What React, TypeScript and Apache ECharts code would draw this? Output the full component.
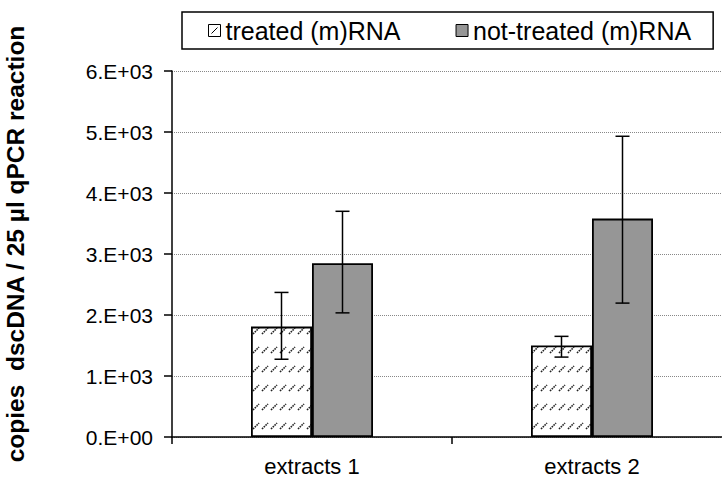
import React, { useEffect, useRef } from "react";
import * as echarts from "echarts";

const categories = ["extracts 1", "extracts 2"];
const seriesNames = ["treated (m)RNA", "not-treated (m)RNA"];
const treatedValues = [1810, 1500];
const treatedLow = [1275, 1310];
const treatedHigh = [2370, 1650];
const notTreatedValues = [2850, 3580];
const notTreatedLow = [2035, 2195];
const notTreatedHigh = [3700, 4930];
const yTickLabels = ["0.E+00", "1.E+03", "2.E+03", "3.E+03", "4.E+03", "5.E+03", "6.E+03"];
const yAxisTitle = "copies  dscDNA / 25 µl qPCR reaction";

const FONT = '"Liberation Sans", Arial, sans-serif';
const BAR_W = 61;

function makeHatch(): any {
  const c = document.createElement("canvas");
  c.width = 9;
  c.height = 19;
  const ctx = c.getContext("2d")!;
  ctx.fillStyle = "#ffffff";
  ctx.fillRect(0, 0, 9, 19);
  ctx.strokeStyle = "#222222";
  ctx.lineWidth = 1.6;
  ctx.setLineDash([1.6, 0.9]);
  ctx.beginPath();
  ctx.moveTo(1, 11);
  ctx.lineTo(7, 5);
  ctx.stroke();
  return { image: c.toDataURL(), repeat: "repeat", imageWidth: 9, imageHeight: 19 };
}

export default function App() {
  const ref = useRef<HTMLDivElement>(null);
  useEffect(() => {
    document.body.style.margin = "0";
    const chart = echarts.init(ref.current!, null, { renderer: "svg" });
    const hatch = makeHatch();
    const errData: any[] = [];
    categories.forEach((_, i) => {
      errData.push([i, treatedLow[i], treatedHigh[i], 0]);
      errData.push([i, notTreatedLow[i], notTreatedHigh[i], 1]);
    });
    chart.setOption({
      animation: false,
      grid: { left: 172, top: 71, width: 560, bottom: 48, outerBoundsMode: "none", containLabel: false },
      legend: {
        left: 182,
        top: 12,
        padding: [6, 22, 6, 26],
        itemGap: 55,
        itemWidth: 12,
        itemHeight: 12,
        borderColor: "#000",
        borderWidth: 1.5,
        backgroundColor: "#fff",
        textStyle: { fontFamily: FONT, fontSize: 25, color: "#000" },
        data: [
          {
            name: seriesNames[0],
            icon: "path://M0,0L12,0L12,12L0,12Z M3,9L9,3",
            itemStyle: { color: "#fff", borderColor: "#000", borderWidth: 1 },
          },
          {
            name: seriesNames[1],
            icon: "rect",
            itemStyle: { color: "#969696", borderColor: "#000", borderWidth: 1 },
          },
        ],
      },
      xAxis: {
        type: "category",
        data: categories,
        axisLine: { lineStyle: { color: "#000", width: 1.5 } },
        axisTick: { show: true, length: 7, lineStyle: { color: "#000", width: 1.5 } },
        axisLabel: { color: "#000", fontFamily: FONT, fontSize: 22, margin: 18 },
      },
      yAxis: {
        type: "value",
        min: 0,
        max: 6000,
        interval: 1000,
        axisLine: { show: true, lineStyle: { color: "#000", width: 1.5 } },
        axisTick: { show: true, length: 8, lineStyle: { color: "#000", width: 1.5 } },
        axisLabel: {
          color: "#000",
          fontFamily: FONT,
          fontSize: 21,
          margin: 19,
          formatter: (v: number) => yTickLabels[Math.round(v / 1000)],
        },
        splitLine: { show: true, lineStyle: { color: "#888", width: 1, type: [1, 1] } },
      },
      graphic: [
        {
          type: "text",
          x: 15,
          y: 244,
          rotation: Math.PI / 2,
          style: {
            text: yAxisTitle,
            font: `bold 24.5px ${FONT}`,
            fill: "#000",
            align: "center",
            verticalAlign: "middle",
            textAlign: "center",
            textVerticalAlign: "middle",
          },
        },
      ],
      series: [
        {
          name: seriesNames[0],
          type: "bar",
          data: treatedValues,
          barWidth: BAR_W,
          barGap: "0%",
          itemStyle: { color: hatch, borderColor: "#000", borderWidth: 1.8 },
        },
        {
          name: seriesNames[1],
          type: "bar",
          data: notTreatedValues,
          barWidth: BAR_W,
          barGap: "0%",
          itemStyle: { color: "#969696", borderColor: "#000", borderWidth: 1.8 },
        },
        {
          type: "custom",
          data: errData,
          z: 10,
          renderItem: (params: any, api: any) => {
            const cat = api.value(0);
            const s = api.value(3);
            const lo = api.coord([cat, api.value(1)]);
            const hi = api.coord([cat, api.value(2)]);
            const x = lo[0] + (s === 0 ? -BAR_W / 2 : BAR_W / 2);
            const cap = 7;
            const st = { stroke: "#000", lineWidth: 1.5 };
            return {
              type: "group",
              children: [
                { type: "line", shape: { x1: x, y1: lo[1], x2: x, y2: hi[1] }, style: st },
                { type: "line", shape: { x1: x - cap, y1: lo[1], x2: x + cap, y2: lo[1] }, style: st },
                { type: "line", shape: { x1: x - cap, y1: hi[1], x2: x + cap, y2: hi[1] }, style: st },
              ],
            };
          },
        },
      ],
    });
    return () => chart.dispose();
  }, []);
  return <div ref={ref} style={{ width: 722, height: 485 }} />;
}
